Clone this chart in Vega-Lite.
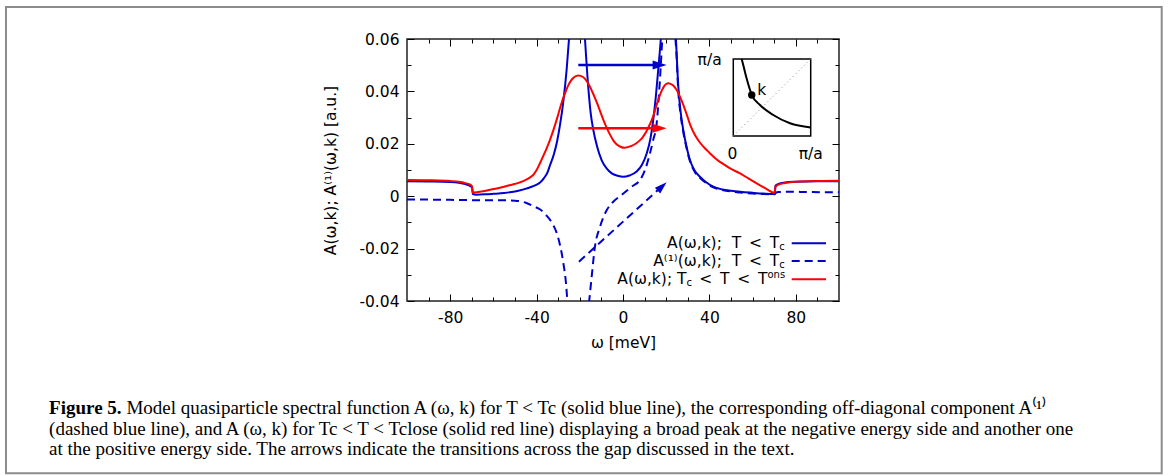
{
  "$schema": "https://vega.github.io/schema/vega-lite/v6.json",
  "width": 432,
  "height": 262,
  "autosize": {"type": "none"},
  "padding": {"left": 407, "top": 39, "right": 329, "bottom": 175},
  "background": "white",
  "config": {
    "view": {"stroke": "#222", "strokeWidth": 1.5},
    "font": "DejaVu Sans",
    "axis": {"grid": false, "domain": false, "tickColor": "#000", "tickWidth": 1, "labelColor": "#000", "titleColor": "#000", "labelFont": "DejaVu Sans", "titleFont": "DejaVu Sans", "labelFontSize": 15.5, "titleFontSize": 15.5, "titleFontWeight": "normal"}
  },
  "datasets": {
    "frame": [{"x1": -285.65, "x2": 249.4, "y1": 0.07221, "y2": -0.10576}],
    "blue": [
      {"w":-100,"a":0.0057},{"w":-90,"a":0.0056},{"w":-80,"a":0.0054},{"w":-76,"a":0.0051},{"w":-73,"a":0.0046},{"w":-71,"a":0.0040},{"w":-69.9,"a":0.0033},{"w":-69.5,"a":0.0008},{"w":-68,"a":0.0006},{"w":-64,"a":0.0007},{"w":-60,"a":0.0009},{"w":-55,"a":0.0012},{"w":-50,"a":0.0018},{"w":-46,"a":0.0026},{"w":-42,"a":0.0037},{"w":-40,"a":0.0044},{"w":-38.4,"a":0.0052},{"w":-36.5,"a":0.0070},{"w":-35,"a":0.0090},{"w":-33.8,"a":0.0118},{"w":-32,"a":0.0160},{"w":-30.5,"a":0.0210},{"w":-29.2,"a":0.0270},{"w":-27.5,"a":0.0370},{"w":-26.1,"a":0.0482},{"w":-25,"a":0.060},{"w":-24,"a":0.072},{"w":-23,"a":0.084},{"w":-22,"a":0.093},{"w":-21.2,"a":0.096},{"w":-20.4,"a":0.093},{"w":-19.4,"a":0.084},{"w":-18.5,"a":0.072},{"w":-17.6,"a":0.060},{"w":-16.1,"a":0.0418},{"w":-15,"a":0.0320},{"w":-13.75,"a":0.0253},{"w":-12,"a":0.0190},{"w":-9.9,"a":0.0138},{"w":-7.5,"a":0.0105},{"w":-5.2,"a":0.0087},{"w":-2.5,"a":0.0078},{"w":0.1,"a":0.0074},{"w":3,"a":0.0079},{"w":6.3,"a":0.0094},{"w":8.8,"a":0.0120},{"w":11,"a":0.0164},{"w":12.7,"a":0.0220},{"w":14,"a":0.0291},{"w":15.2,"a":0.0380},{"w":16.3,"a":0.0482},{"w":17.5,"a":0.060},{"w":18.4,"a":0.072},{"w":19.3,"a":0.084},{"w":20.2,"a":0.093},{"w":21,"a":0.096},{"w":21.8,"a":0.093},{"w":22.7,"a":0.084},{"w":23.6,"a":0.072},{"w":24.5,"a":0.060},{"w":25.6,"a":0.0418},{"w":26.7,"a":0.0320},{"w":27.9,"a":0.0253},{"w":29.4,"a":0.0190},{"w":31,"a":0.0138},{"w":33,"a":0.0100},{"w":35.6,"a":0.0074},{"w":38.5,"a":0.0053},{"w":41.8,"a":0.0036},{"w":46,"a":0.0026},{"w":50,"a":0.0021},{"w":54.2,"a":0.0017},{"w":60,"a":0.0013},{"w":65,"a":0.0010},{"w":70.2,"a":0.0008},{"w":70.6,"a":0.0040},{"w":72,"a":0.0047},{"w":75,"a":0.0052},{"w":80,"a":0.0055},{"w":90,"a":0.0057},{"w":100,"a":0.0057}
    ],
    "red": [
      {"w":-100,"a":0.0062},{"w":-90,"a":0.0061},{"w":-80,"a":0.0058},{"w":-76,"a":0.0055},{"w":-73,"a":0.0050},{"w":-71,"a":0.0045},{"w":-69.9,"a":0.0038},{"w":-69.5,"a":0.0013},{"w":-67,"a":0.0016},{"w":-63,"a":0.0022},{"w":-57,"a":0.0032},{"w":-52,"a":0.0043},{"w":-48,"a":0.0052},{"w":-45,"a":0.0062},{"w":-43,"a":0.0072},{"w":-41.5,"a":0.0082},{"w":-40,"a":0.0100},{"w":-38.5,"a":0.0125},{"w":-37,"a":0.0152},{"w":-35.5,"a":0.0180},{"w":-33.8,"a":0.0215},{"w":-32,"a":0.0258},{"w":-30.5,"a":0.0298},{"w":-29.2,"a":0.0335},{"w":-27.8,"a":0.0372},{"w":-26.5,"a":0.0400},{"w":-25.3,"a":0.0424},{"w":-24,"a":0.0442},{"w":-22.5,"a":0.0455},{"w":-20.7,"a":0.0461},{"w":-18.5,"a":0.0455},{"w":-17,"a":0.0442},{"w":-15.3,"a":0.0418},{"w":-13.5,"a":0.0385},{"w":-12,"a":0.0355},{"w":-10.5,"a":0.0322},{"w":-9.1,"a":0.0291},{"w":-7.5,"a":0.0260},{"w":-6,"a":0.0235},{"w":-4.5,"a":0.0213},{"w":-3,"a":0.0198},{"w":-1,"a":0.0188},{"w":0.9,"a":0.0185},{"w":2,"a":0.0187},{"w":4,"a":0.0192},{"w":6,"a":0.0201},{"w":7.9,"a":0.0214},{"w":9,"a":0.0224},{"w":10,"a":0.0236},{"w":11,"a":0.0250},{"w":12,"a":0.0267},{"w":13,"a":0.0285},{"w":14,"a":0.0306},{"w":15,"a":0.0333},{"w":16,"a":0.0360},{"w":17,"a":0.0384},{"w":18,"a":0.0404},{"w":19,"a":0.0419},{"w":20,"a":0.0428},{"w":21,"a":0.0431},{"w":22,"a":0.0429},{"w":23,"a":0.0424},{"w":24,"a":0.0415},{"w":25,"a":0.0403},{"w":26,"a":0.0387},{"w":27,"a":0.0368},{"w":28,"a":0.0347},{"w":29,"a":0.0324},{"w":30,"a":0.0300},{"w":31,"a":0.0275},{"w":32,"a":0.0255},{"w":33,"a":0.0238},{"w":34,"a":0.0224},{"w":35.6,"a":0.0205},{"w":38,"a":0.0182},{"w":40,"a":0.0166},{"w":43.4,"a":0.0140},{"w":46,"a":0.0125},{"w":50,"a":0.0104},{"w":54.2,"a":0.0087},{"w":58,"a":0.0068},{"w":61.9,"a":0.0049},{"w":66,"a":0.0030},{"w":70.2,"a":0.0013},{"w":70.6,"a":0.0036},{"w":72,"a":0.0044},{"w":75,"a":0.0050},{"w":80,"a":0.0055},{"w":90,"a":0.0058},{"w":100,"a":0.0059}
    ],
    "dash": [
      {"w":-100,"a":-0.0013},{"w":-90,"a":-0.0013},{"w":-80,"a":-0.0014},{"w":-70,"a":-0.0015},{"w":-60,"a":-0.0015},{"w":-50,"a":-0.0017},{"w":-45,"a":-0.0025},{"w":-41.5,"a":-0.0038},{"w":-38,"a":-0.0053},{"w":-35.3,"a":-0.0075},{"w":-32.3,"a":-0.0110},{"w":-30.7,"a":-0.0140},{"w":-29.2,"a":-0.0185},{"w":-27.6,"a":-0.0256},{"w":-26.4,"a":-0.0332},{"w":-25.8,"a":-0.0396},{"w":-25,"a":-0.050},{"w":-23.5,"a":-0.070},{"w":-22,"a":-0.085},{"w":-21.2,"a":-0.090},{"w":-20.4,"a":-0.085},{"w":-19,"a":-0.070},{"w":-17.5,"a":-0.055},{"w":-16.3,"a":-0.045},{"w":-15.6,"a":-0.0396},{"w":-14.5,"a":-0.0307},{"w":-13,"a":-0.0193},{"w":-10.6,"a":-0.0116},{"w":-7.5,"a":-0.0053},{"w":-4.5,"a":-0.0021},{"w":-0.6,"a":0.0005},{"w":4,"a":0.0036},{"w":7.9,"a":0.0062},{"w":10.2,"a":0.0100},{"w":12.5,"a":0.0164},{"w":14,"a":0.0215},{"w":15.6,"a":0.0278},{"w":16.5,"a":0.0370},{"w":17.5,"a":0.050},{"w":18.5,"a":0.065},{"w":19.5,"a":0.080},{"w":21,"a":0.090},{"w":22,"a":0.085},{"w":23,"a":0.075},{"w":24,"a":0.063},{"w":24.7,"a":0.055},{"w":25.6,"a":0.0400},{"w":26.7,"a":0.0310},{"w":27.9,"a":0.0245},{"w":29.4,"a":0.0185},{"w":31,"a":0.0134},{"w":33,"a":0.0096},{"w":35.6,"a":0.0070},{"w":38.5,"a":0.0050},{"w":41.8,"a":0.0034},{"w":46,"a":0.0024},{"w":50,"a":0.0018},{"w":54.2,"a":0.0014},{"w":60,"a":0.0010},{"w":65,"a":0.0008},{"w":70.2,"a":0.0007},{"w":70.7,"a":0.0013},{"w":72,"a":0.0016},{"w":77,"a":0.0017},{"w":85,"a":0.0016},{"w":100,"a":0.0015}
    ],
    "arrows": [{"x1":-20.7,"x2":17,"y1":0.05008,"y2":0.05008,"s":"blue"},{"x1":-20.7,"x2":17,"y1":0.02592,"y2":0.02592,"s":"red"}],
    "darrow": [{"x1":-20.4,"y1":-0.025,"x2":18.1,"y2":0.0038}],
    "heads": [{"x":20.2,"y":0.05008,"s":"blue"},{"x":20.2,"y":0.02592,"s":"red"}],
    "dhead": [{"x":20.2,"y":0.0053}],
    "insetbox": [{"x1":51.06,"x2":86.9,"y1":0.02298,"y2":0.05237}],
    "insetcurve": [{"x":54.95,"y":0.05237},{"x":55.79,"y":0.04969},{"x":57.18,"y":0.04511},{"x":59.72,"y":0.03851},{"x":63.43,"y":0.03481},{"x":69.58,"y":0.03099},{"x":77.31,"y":0.02782},{"x":86.9,"y":0.02622}],
    "insetpt": [{"x":59.6,"y":0.0386}],
    "insetlab": [{"x":40.1,"y":0.052,"t":"π/a"},{"x":50.7,"y":0.0161,"t":"0"},{"x":86.9,"y":0.0161,"t":"π/a"},{"x":64.2,"y":0.0405,"t":"k"}],
    "legline": [{"x1":78.1,"x2":94,"y":-0.01798,"s":"blue","d":"solid"},{"x1":78.1,"x2":94,"y":-0.02473,"s":"blue","d":"dash"},{"x1":78.1,"x2":94,"y":-0.03172,"s":"red","d":"solid"}],
    "legR": [{"x":72.3,"y":-0.01798,"t":"A(ω,k);\u00a0\u00a0T\u2002<\u2002T"},{"x":72.3,"y":-0.02473,"t":"A⁽¹⁾(ω,k);\u00a0\u00a0T\u2002<\u2002T"},{"x":29.4,"y":-0.03172,"t":"A(ω,k); T"},{"x":66.9,"y":-0.03172,"t":"\u2002<\u2002T\u2002<\u2002T"}],
    "legSub": [{"x":72.3,"y":-0.01798,"t":"c"},{"x":72.3,"y":-0.02473,"t":"c"},{"x":29.4,"y":-0.03172,"t":"c"}],
    "legSup": [{"x":66.9,"y":-0.03172,"t":"ons"}],
    "capBold": [{"x":-265.7,"y":-0.08313,"t":"Figure 5."}],
    "capText": [
      {"x":-229.9,"y":-0.08313,"t":"Model quasiparticle spectral function A (ω, k) for T < Tc (solid blue line), the corresponding off-diagonal component A⁽¹⁾"},
      {"x":-265.7,"y":-0.09115,"t":"(dashed blue line), and A (ω, k) for Tc < T < Tclose (solid red line) displaying a broad peak at the negative energy side and another one"},
      {"x":-265.7,"y":-0.09878,"t":"at the positive energy side. The arrows indicate the transitions across the gap discussed in the text."}
    ]
  },
  "resolve": {"axis": {"x": "independent", "y": "independent"}},
  "layer": [
    {
      "data": {"name": "frame"},
      "mark": {"type": "rect", "fillOpacity": 0, "stroke": "#8c8c8c", "strokeWidth": 2},
      "encoding": {
        "x": {"field": "x1", "type": "quantitative", "axis": null},
        "x2": {"field": "x2"},
        "y": {"field": "y1", "type": "quantitative", "axis": null},
        "y2": {"field": "y2"}
      }
    },
    {
      "mark": {"type": "rule", "color": "#999", "strokeDash": [1, 3], "strokeWidth": 1},
      "encoding": {"y": {"datum": 0, "type": "quantitative", "axis": null}}
    },
    {
      "data": {"name": "blue"},
      "mark": {"type": "line", "color": "#0000cc", "strokeWidth": 2, "clip": true, "interpolate": "monotone"},
      "encoding": {
        "x": {"field": "w", "type": "quantitative", "scale": {"domain": [-100, 100], "nice": false, "zero": false},
          "axis": {"orient": "bottom", "values": [-80, -40, 0, 40, 80], "tickSize": -7, "labelPadding": 16, "labelExpr": "(datum.value < 0 ? '-' : '') + format(abs(datum.value), 'd')", "title": "ω [meV]", "titlePadding": 10}},
        "y": {"field": "a", "type": "quantitative", "scale": {"domain": [-0.04, 0.06], "nice": false, "zero": false},
          "axis": {"orient": "left", "values": [-0.04, -0.02, 0, 0.02, 0.04, 0.06], "tickSize": -7, "labelPadding": 15, "labelExpr": "datum.value == 0 ? '0' : (datum.value < 0 ? '-' : '') + format(abs(datum.value), '.2f')", "title": "A(ω,k); A⁽¹⁾(ω,k) [a.u.]", "titlePadding": 20}}
      }
    },
    {
      "data": {"name": "dash"},
      "mark": {"type": "line", "color": "#0000cc", "strokeWidth": 2, "strokeDash": [8, 5], "clip": true, "interpolate": "monotone"},
      "encoding": {
        "x": {"field": "w", "type": "quantitative", "axis": {"orient": "bottom", "values": [-90, -70, -60, -50, -30, -20, -10, 10, 20, 30, 50, 60, 70, 90], "tickSize": -4, "labels": false, "title": null}},
        "y": {"field": "a", "type": "quantitative", "axis": {"orient": "left", "values": [-0.03, -0.01, 0.01, 0.03, 0.05], "tickSize": -4, "labels": false, "title": null}}
      }
    },
    {
      "data": {"name": "red"},
      "mark": {"type": "line", "color": "#ff0000", "strokeWidth": 2, "clip": true, "interpolate": "monotone"},
      "encoding": {
        "x": {"field": "w", "type": "quantitative", "axis": {"orient": "top", "values": [-80, -40, 0, 40, 80], "tickSize": -7, "labels": false, "title": null}},
        "y": {"field": "a", "type": "quantitative", "axis": {"orient": "right", "values": [-0.04, -0.02, 0, 0.02, 0.04, 0.06], "tickSize": -7, "labels": false, "title": null}}
      }
    },
    {
      "data": {"name": "arrows"},
      "mark": {"type": "rule", "strokeWidth": 2.5},
      "encoding": {
        "x": {"field": "x1", "type": "quantitative", "axis": {"orient": "top", "values": [-90, -70, -60, -50, -30, -20, -10, 10, 20, 30, 50, 60, 70, 90], "tickSize": -4, "labels": false, "title": null}},
        "x2": {"field": "x2"},
        "y": {"field": "y1", "type": "quantitative", "axis": {"orient": "right", "values": [-0.03, -0.01, 0.01, 0.03, 0.05], "tickSize": -4, "labels": false, "title": null}},
        "y2": {"field": "y2"},
        "color": {"field": "s", "type": "nominal", "scale": {"domain": ["blue", "red"], "range": ["#0000cc", "#ff0000"]}, "legend": null}
      }
    },
    {
      "data": {"name": "darrow"},
      "mark": {"type": "rule", "strokeWidth": 2, "color": "#0000cc", "strokeDash": [8, 5]},
      "encoding": {
        "x": {"field": "x1", "type": "quantitative", "axis": null},
        "x2": {"field": "x2"},
        "y": {"field": "y1", "type": "quantitative", "axis": null},
        "y2": {"field": "y2"}
      }
    },
    {
      "data": {"name": "heads"},
      "mark": {"type": "point", "shape": "M0,0L-1,-0.32L-1,0.32Z", "filled": true, "opacity": 1, "size": 784, "strokeWidth": 0},
      "encoding": {
        "x": {"field": "x", "type": "quantitative", "axis": null},
        "y": {"field": "y", "type": "quantitative", "axis": null},
        "color": {"field": "s", "type": "nominal", "scale": {"domain": ["blue", "red"], "range": ["#0000cc", "#ff0000"]}, "legend": null}
      }
    },
    {
      "data": {"name": "dhead"},
      "mark": {"type": "point", "shape": "M0,0L-1,-0.32L-1,0.32Z", "filled": true, "opacity": 1, "size": 600, "strokeWidth": 0, "angle": 317.8, "color": "#0000cc"},
      "encoding": {
        "x": {"field": "x", "type": "quantitative", "axis": null},
        "y": {"field": "y", "type": "quantitative", "axis": null}
      }
    },
    {
      "data": {"name": "insetbox"},
      "mark": {"type": "rect", "fill": "white", "stroke": "#000", "strokeWidth": 1.5},
      "encoding": {
        "x": {"field": "x1", "type": "quantitative", "axis": null},
        "x2": {"field": "x2"},
        "y": {"field": "y1", "type": "quantitative", "axis": null},
        "y2": {"field": "y2"}
      }
    },
    {
      "data": {"name": "insetbox"},
      "mark": {"type": "rule", "color": "#888", "strokeDash": [1, 3], "strokeWidth": 1},
      "encoding": {
        "x": {"field": "x1", "type": "quantitative", "axis": null},
        "x2": {"field": "x2"},
        "y": {"field": "y1", "type": "quantitative", "axis": null},
        "y2": {"field": "y2"}
      }
    },
    {
      "data": {"name": "insetcurve"},
      "mark": {"type": "line", "color": "#000", "strokeWidth": 2, "interpolate": "monotone"},
      "encoding": {
        "x": {"field": "x", "type": "quantitative", "axis": null},
        "y": {"field": "y", "type": "quantitative", "axis": null}
      }
    },
    {
      "data": {"name": "insetpt"},
      "mark": {"type": "point", "shape": "circle", "filled": true, "opacity": 1, "color": "#000", "size": 55},
      "encoding": {
        "x": {"field": "x", "type": "quantitative", "axis": null},
        "y": {"field": "y", "type": "quantitative", "axis": null}
      }
    },
    {
      "data": {"name": "insetlab"},
      "mark": {"type": "text", "align": "center", "baseline": "middle", "fontSize": 15.5, "color": "#000"},
      "encoding": {
        "x": {"field": "x", "type": "quantitative", "axis": null},
        "y": {"field": "y", "type": "quantitative", "axis": null},
        "text": {"field": "t"}
      }
    },
    {
      "data": {"name": "legline"},
      "mark": {"type": "rule", "strokeWidth": 2},
      "encoding": {
        "x": {"field": "x1", "type": "quantitative", "axis": null},
        "x2": {"field": "x2"},
        "y": {"field": "y", "type": "quantitative", "axis": null},
        "color": {"field": "s", "type": "nominal", "scale": {"domain": ["blue", "red"], "range": ["#0000cc", "#ff0000"]}, "legend": null},
        "strokeDash": {"field": "d", "type": "nominal", "scale": {"domain": ["solid", "dash"], "range": [[1, 0], [8, 5]]}, "legend": null}
      }
    },
    {
      "data": {"name": "legR"},
      "mark": {"type": "text", "align": "right", "baseline": "middle", "fontSize": 15.5, "color": "#000"},
      "encoding": {
        "x": {"field": "x", "type": "quantitative", "axis": null},
        "y": {"field": "y", "type": "quantitative", "axis": null},
        "text": {"field": "t"}
      }
    },
    {
      "data": {"name": "legSub"},
      "mark": {"type": "text", "align": "left", "baseline": "middle", "fontSize": 10, "dy": 4, "color": "#000"},
      "encoding": {
        "x": {"field": "x", "type": "quantitative", "axis": null},
        "y": {"field": "y", "type": "quantitative", "axis": null},
        "text": {"field": "t"}
      }
    },
    {
      "data": {"name": "legSup"},
      "mark": {"type": "text", "align": "left", "baseline": "middle", "fontSize": 10, "dy": -4, "color": "#000"},
      "encoding": {
        "x": {"field": "x", "type": "quantitative", "axis": null},
        "y": {"field": "y", "type": "quantitative", "axis": null},
        "text": {"field": "t"}
      }
    },
    {
      "data": {"name": "capBold"},
      "mark": {"type": "text", "align": "left", "baseline": "alphabetic", "font": "Liberation Serif", "fontWeight": "bold", "fontSize": 19, "color": "#000"},
      "encoding": {
        "x": {"field": "x", "type": "quantitative", "axis": null},
        "y": {"field": "y", "type": "quantitative", "axis": null},
        "text": {"field": "t"}
      }
    },
    {
      "data": {"name": "capText"},
      "mark": {"type": "text", "align": "left", "baseline": "alphabetic", "font": "Liberation Serif", "fontSize": 19, "color": "#000"},
      "encoding": {
        "x": {"field": "x", "type": "quantitative", "axis": null},
        "y": {"field": "y", "type": "quantitative", "axis": null},
        "text": {"field": "t"}
      }
    }
  ]
}
